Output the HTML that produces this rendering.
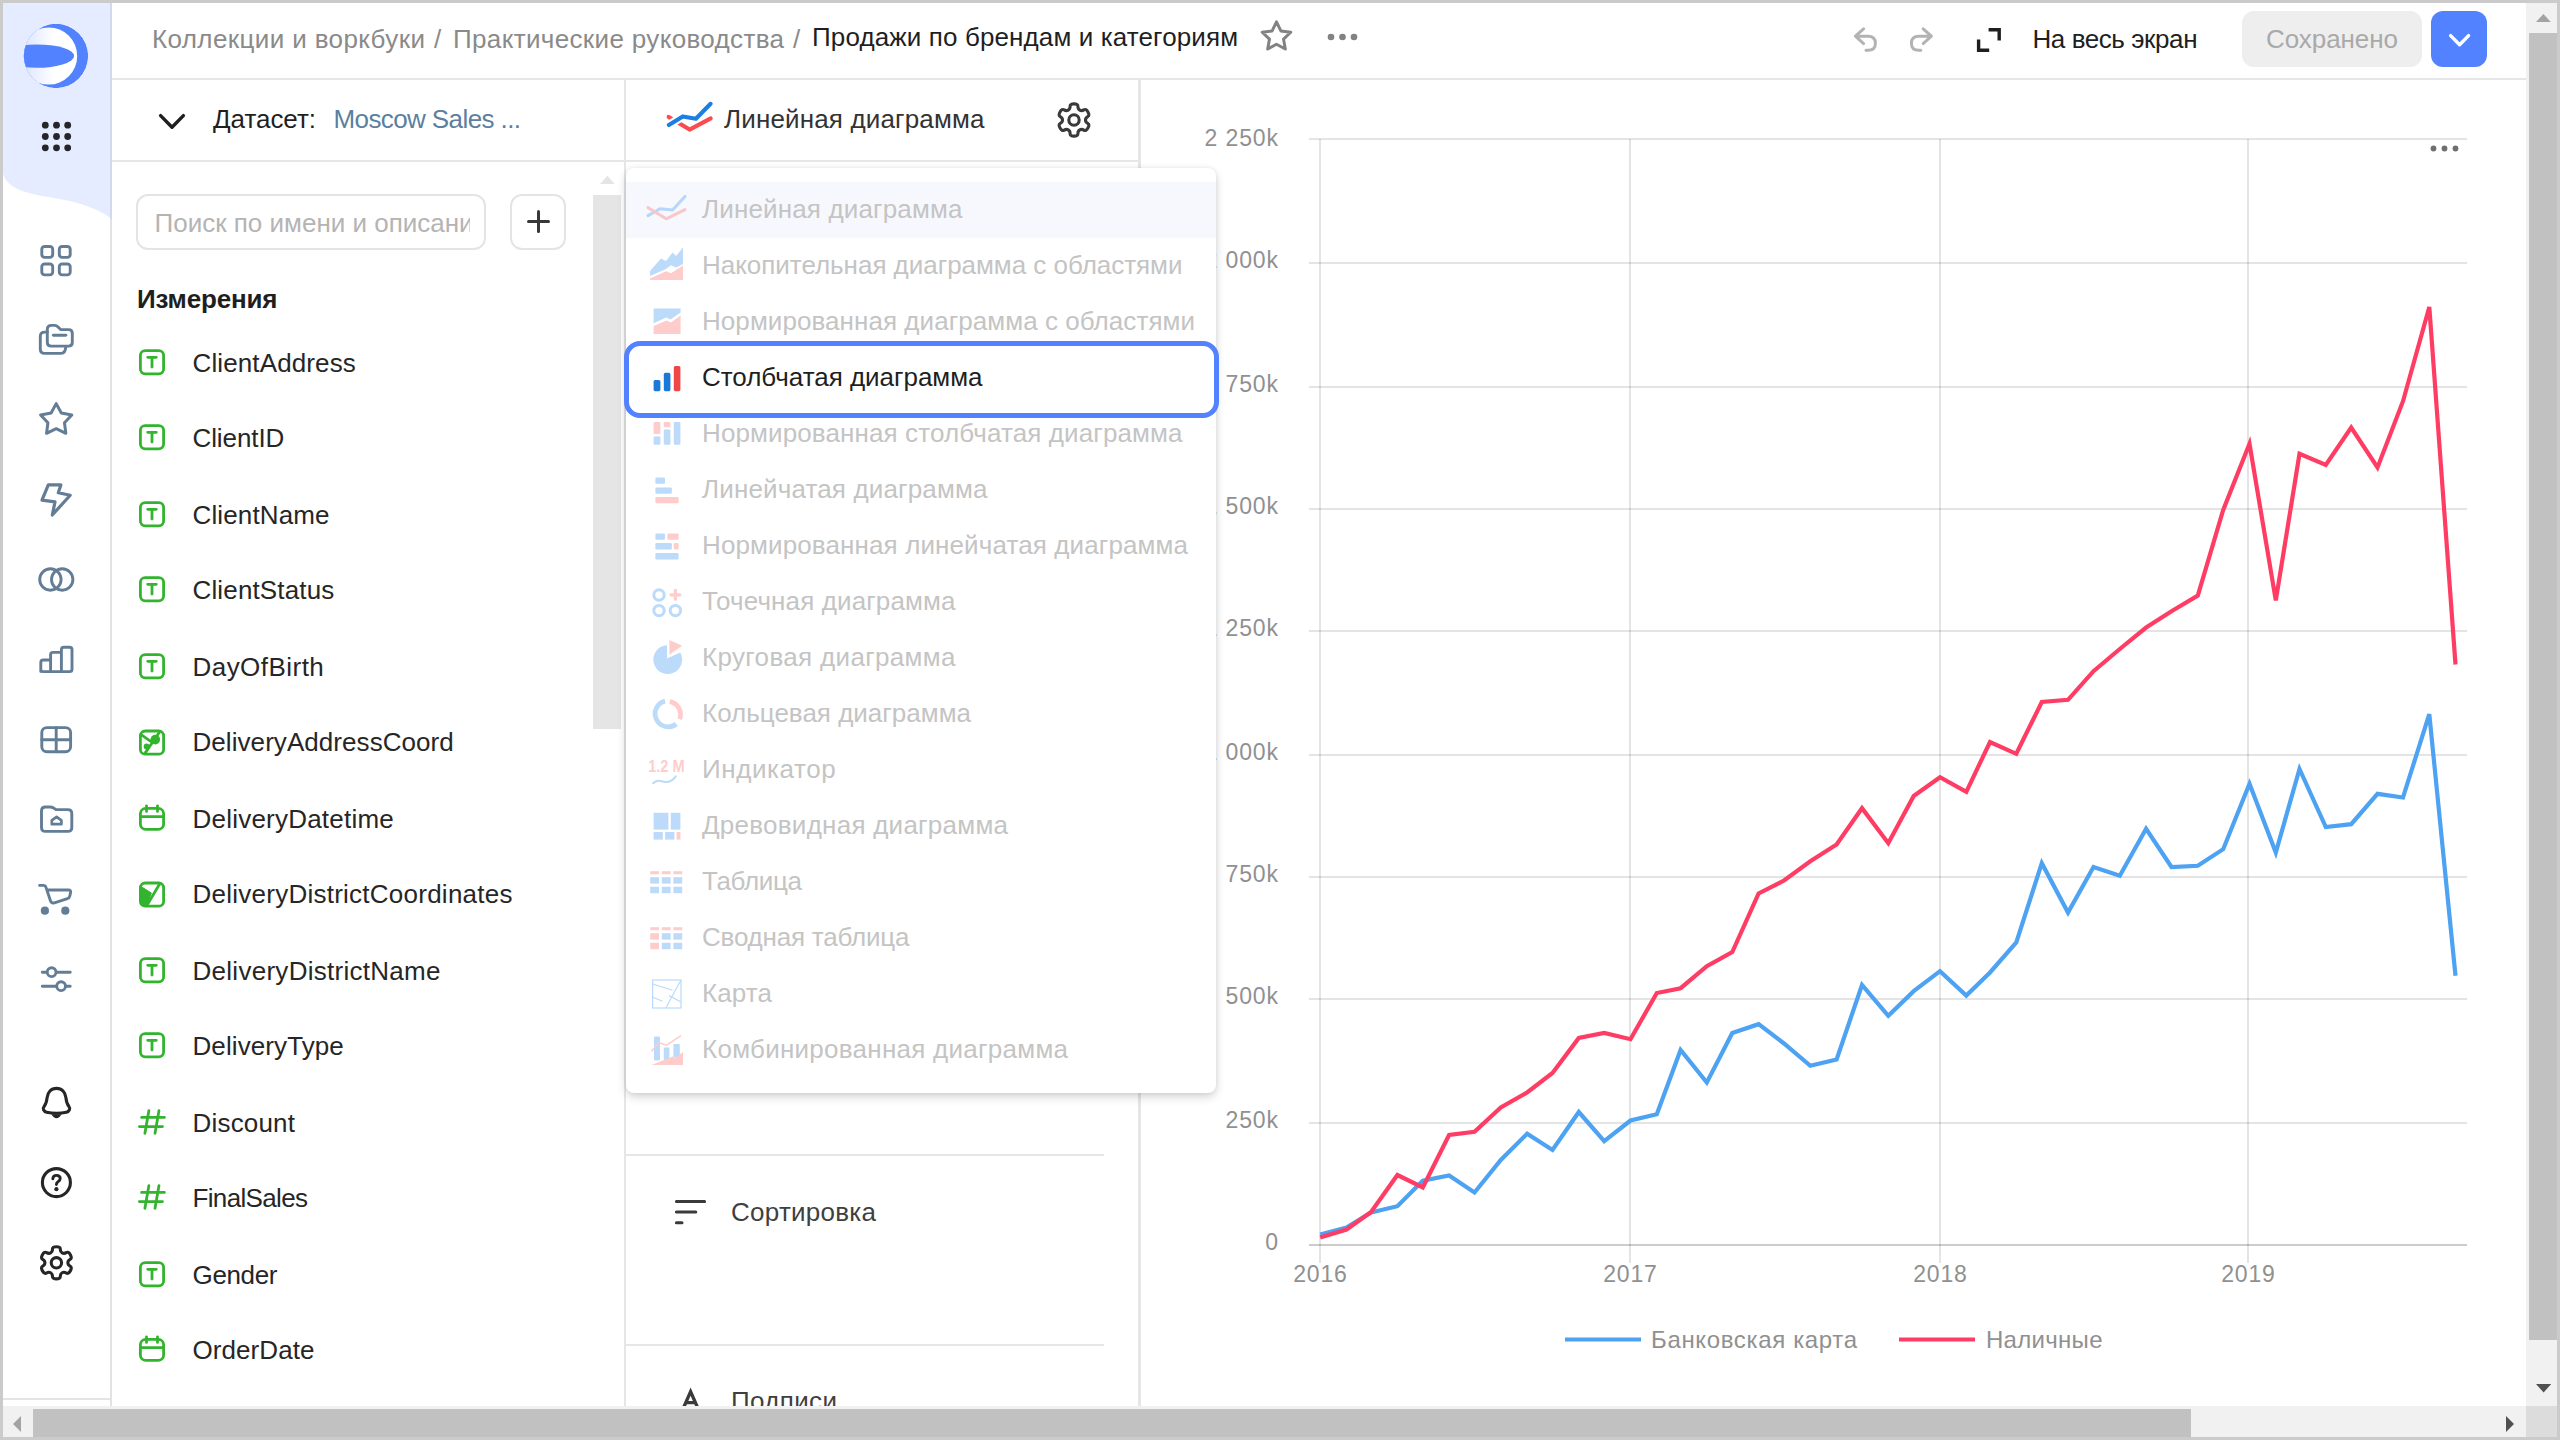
<!DOCTYPE html>
<html lang="ru"><head><meta charset="utf-8"><title>DataLens</title>
<style>
*{box-sizing:border-box;margin:0;padding:0}
html,body{width:2560px;height:1440px;overflow:hidden;background:#fff}
body{position:relative;font-family:"Liberation Sans",sans-serif;color:#262626}
.a{position:absolute}
.t{position:absolute;white-space:nowrap;line-height:1;font-family:"Liberation Sans",sans-serif}
svg{position:absolute;overflow:visible}

</style></head>
<body>
<svg style="left:3px;top:3px" width="109" height="240" viewBox="0 0 109 240"><path d="M0 0H109V216C92 203 70 198 45 194C20 190 4 184 0 171Z" fill="#e6ecff"/></svg>
<div class="a" style="left:110.3px;top:3px;width:1.6px;height:216px;background:#d3d8ec;"></div>
<div class="a" style="left:110.3px;top:219px;width:1.6px;height:1187px;background:#e2e2e2;"></div>
<div class="a" style="left:3px;top:1398.4px;width:108.8px;height:1.8px;background:#e4e4e4;"></div>
<div class="a" style="left:112px;top:78px;width:2414px;height:2px;background:#e6e6e6;"></div>
<div class="t" style="left:152.0px;top:25.5px;font-size:26px;color:#8a8a8a;letter-spacing:0.382px;">Коллекции и воркбуки</div>
<div class="t" style="left:434.0px;top:25.5px;font-size:26px;color:#8a8a8a;">/</div>
<div class="t" style="left:453.0px;top:25.5px;font-size:26px;color:#8a8a8a;letter-spacing:0.345px;">Практические руководства</div>
<div class="t" style="left:793.0px;top:25.5px;font-size:26px;color:#8a8a8a;">/</div>
<div class="t" style="left:812.0px;top:24.3px;font-size:26px;color:#1f1f1f;letter-spacing:0.119px;">Продажи по брендам и категориям</div>
<div class="t" style="left:2032.5px;top:26.0px;font-size:26px;color:#1f1f1f;letter-spacing:-0.428px;">На весь экран</div>
<div class="a" style="left:2242px;top:11px;width:180px;height:56px;background:#eeeeee;border-radius:12px"></div>
<div class="t" style="left:2266.0px;top:26.0px;font-size:26px;color:#a9a9a9;letter-spacing:-0.064px;">Сохранено</div>
<div class="a" style="left:2431px;top:11px;width:56px;height:56px;background:#5282ff;border-radius:12px"></div>
<div class="a" style="left:112px;top:160px;width:1027px;height:2px;background:#e6e6e6;"></div>
<div class="a" style="left:624px;top:80px;width:2px;height:1326px;background:#e6e6e6;"></div>
<div class="a" style="left:1138px;top:80px;width:2.6px;height:1326px;background:#e6e6e6;"></div>
<div class="t" style="left:213.0px;top:106.0px;font-size:26px;color:#1f1f1f;letter-spacing:-0.045px;">Датасет:</div>
<div class="t" style="left:333.5px;top:106.0px;font-size:26px;color:#5b7f9f;letter-spacing:-0.601px;">Moscow Sales ...</div>
<div class="t" style="left:724.0px;top:106.0px;font-size:26px;color:#333;letter-spacing:0.157px;">Линейная диаграмма</div>
<div class="a" style="left:136px;top:194px;width:350px;height:56px;background:#fff;border:2px solid #e4e4e4;border-radius:12px"></div>
<div class="a" style="left:138px;top:196px;width:332px;height:52px;overflow:hidden"><div class="t" style="left:16.5px;top:14.0px;font-size:26px;color:#b4b4b4;">Поиск по имени и описании</div></div>
<div class="a" style="left:510.2px;top:194px;width:56px;height:56px;background:#fff;border:2px solid #e4e4e4;border-radius:12px"></div>
<div class="a" style="left:526.6px;top:220.2px;width:23px;height:3.1px;background:#383838;border-radius:1.5px"></div>
<div class="a" style="left:536.6px;top:210.2px;width:3.1px;height:23px;background:#383838;border-radius:1.5px"></div>
<div class="t" style="left:137.0px;top:286.0px;font-size:26px;color:#1f1f1f;font-weight:700;letter-spacing:-0.170px;">Измерения</div>
<div class="a" style="left:593.4px;top:195px;width:27.6px;height:534.4px;background:#e5e5e5;"></div>
<svg style="left:600px;top:174px" width="15" height="12"><path d="M0 10L7.4 1.8L14.8 10Z" fill="#e5e5e5"/></svg>
<div class="t" style="left:192.5px;top:350.0px;font-size:26px;color:#262626;letter-spacing:0.120px;">ClientAddress</div>
<div class="t" style="left:192.5px;top:425.0px;font-size:26px;color:#262626;letter-spacing:-0.098px;">ClientID</div>
<div class="t" style="left:192.5px;top:502.0px;font-size:26px;color:#262626;letter-spacing:0.130px;">ClientName</div>
<div class="t" style="left:192.5px;top:577.0px;font-size:26px;color:#262626;letter-spacing:0.147px;">ClientStatus</div>
<div class="t" style="left:192.5px;top:654.0px;font-size:26px;color:#262626;letter-spacing:0.460px;">DayOfBirth</div>
<div class="t" style="left:192.5px;top:729.0px;font-size:26px;color:#262626;letter-spacing:0.063px;">DeliveryAddressCoord</div>
<div class="t" style="left:192.5px;top:806.0px;font-size:26px;color:#262626;letter-spacing:0.223px;">DeliveryDatetime</div>
<div class="t" style="left:192.5px;top:881.0px;font-size:26px;color:#262626;letter-spacing:0.248px;">DeliveryDistrictCoordinates</div>
<div class="t" style="left:192.5px;top:958.0px;font-size:26px;color:#262626;letter-spacing:0.279px;">DeliveryDistrictName</div>
<div class="t" style="left:192.5px;top:1033.0px;font-size:26px;color:#262626;letter-spacing:0.093px;">DeliveryType</div>
<div class="t" style="left:192.5px;top:1110.0px;font-size:26px;color:#262626;letter-spacing:0.192px;">Discount</div>
<div class="t" style="left:192.5px;top:1185.0px;font-size:26px;color:#262626;letter-spacing:-0.656px;">FinalSales</div>
<div class="t" style="left:192.5px;top:1262.0px;font-size:26px;color:#262626;letter-spacing:-0.347px;">Gender</div>
<div class="t" style="left:192.5px;top:1337.0px;font-size:26px;color:#262626;letter-spacing:0.076px;">OrderDate</div>
<div class="a" style="left:626px;top:1154px;width:478px;height:2px;background:#e6e6e6;"></div>
<div class="a" style="left:626px;top:1344px;width:478px;height:2px;background:#e6e6e6;"></div>
<div class="t" style="left:731.0px;top:1199.0px;font-size:26px;color:#3f3f3f;letter-spacing:0.255px;">Сортировка</div>
<div class="t" style="left:731.0px;top:1388.0px;font-size:26px;color:#3f3f3f;letter-spacing:0.354px;">Подписи</div>
<div class="a" style="left:2526px;top:3px;width:31px;height:1403px;background:#f1f1f1;"></div>
<div class="a" style="left:2529.3px;top:33px;width:27.7px;height:1307px;background:#c1c1c1;"></div>
<svg style="left:2536px;top:13px" width="15" height="10"><path d="M0 9L7.4 1L14.8 9Z" fill="#a3a3a3"/></svg>
<svg style="left:2535.6px;top:1383px" width="16" height="10"><path d="M0 1L7.6 9.6L15.2 1Z" fill="#505050"/></svg>
<div class="a" style="left:3px;top:1406px;width:2523px;height:31px;background:#f1f1f1;"></div>
<div class="a" style="left:33px;top:1410px;width:2158px;height:27px;background:#c1c1c1;"></div>
<svg style="left:12px;top:1415px" width="10" height="16"><path d="M9 0L1 8L9 16Z" fill="#a3a3a3"/></svg>
<svg style="left:2506px;top:1415px" width="10" height="16"><path d="M1 0L9 8L1 16Z" fill="#505050"/></svg>
<div class="a" style="left:2526px;top:1406px;width:31px;height:31px;background:#dcdcdc;"></div>
<svg style="left:0;top:0" width="2560" height="1440" viewBox="0 0 2560 1440"><rect x="1309" y="138.0" width="1158" height="2" fill="rgba(0,0,0,.105)"/><rect x="1309" y="262.0" width="1158" height="2" fill="rgba(0,0,0,.105)"/><rect x="1309" y="386.0" width="1158" height="2" fill="rgba(0,0,0,.105)"/><rect x="1309" y="508.0" width="1158" height="2" fill="rgba(0,0,0,.105)"/><rect x="1309" y="630.0" width="1158" height="2" fill="rgba(0,0,0,.105)"/><rect x="1309" y="754.0" width="1158" height="2" fill="rgba(0,0,0,.105)"/><rect x="1309" y="876.0" width="1158" height="2" fill="rgba(0,0,0,.105)"/><rect x="1309" y="998.0" width="1158" height="2" fill="rgba(0,0,0,.105)"/><rect x="1309" y="1122.0" width="1158" height="2" fill="rgba(0,0,0,.105)"/><rect x="1319" y="139" width="2" height="1124" fill="rgba(0,0,0,.105)"/><rect x="1629" y="139" width="2" height="1124" fill="rgba(0,0,0,.105)"/><rect x="1939" y="139" width="2" height="1124" fill="rgba(0,0,0,.105)"/><rect x="2247" y="139" width="2" height="1124" fill="rgba(0,0,0,.105)"/><rect x="1309" y="1244.0" width="1158" height="2" fill="rgba(0,0,0,.2)"/><polyline points="1320.2,1234.5 1346.5,1227.5 1371.1,1212.5 1397.4,1206.2 1422.8,1180.8 1449.1,1175.5 1474.5,1192.5 1500.8,1160.0 1527.1,1133.8 1552.5,1150.0 1578.8,1112.0 1604.2,1141.2 1630.5,1120.5 1656.8,1114.2 1680.6,1050.0 1706.8,1082.5 1732.3,1033.0 1758.6,1024.2 1784.0,1043.5 1810.3,1065.8 1836.6,1059.5 1862.0,985.0 1888.3,1015.8 1913.7,991.2 1940.0,971.2 1966.3,995.5 1990.0,972.5 2016.3,942.5 2041.8,863.2 2068.0,912.5 2093.5,867.0 2119.8,875.8 2146.1,828.8 2171.5,867.0 2197.8,865.8 2223.2,849.2 2249.5,783.8 2275.8,852.5 2299.5,769.0 2325.8,827.0 2351.2,824.2 2377.5,793.8 2403.0,797.5 2429.3,714.2 2455.5,975.8" fill="none" stroke="#4da2f1" stroke-width="4.2" stroke-linejoin="miter" stroke-linecap="butt"/><polyline points="1320.2,1237.5 1346.5,1229.5 1371.1,1212.0 1397.4,1175.0 1422.8,1187.5 1449.1,1135.0 1474.5,1131.8 1500.8,1107.5 1527.1,1092.5 1552.5,1073.0 1578.8,1038.0 1604.2,1033.0 1630.5,1039.2 1656.8,993.0 1680.6,988.2 1706.8,966.2 1732.3,952.0 1758.6,893.5 1784.0,880.5 1810.3,861.2 1836.6,844.5 1862.0,808.2 1888.3,843.2 1913.7,796.0 1940.0,777.2 1966.3,791.8 1990.0,742.0 2016.3,753.8 2041.8,702.0 2068.0,699.8 2093.5,671.2 2119.8,649.0 2146.1,627.5 2171.5,611.2 2197.8,595.5 2223.2,510.0 2249.5,443.8 2275.8,600.5 2299.5,453.8 2325.8,465.0 2351.2,427.5 2377.5,467.5 2403.0,401.2 2429.3,307.0 2455.5,664.5" fill="none" stroke="#ff3d64" stroke-width="4.2" stroke-linejoin="miter" stroke-linecap="butt"/><rect x="1565" y="1337.5" width="76" height="4" fill="#4da2f1"/><rect x="1899" y="1337.5" width="76" height="4" fill="#ff3d64"/><circle cx="2433.5" cy="148.5" r="2.9" fill="#6f6f6f"/><circle cx="2444.5" cy="148.5" r="2.9" fill="#6f6f6f"/><circle cx="2455.5" cy="148.5" r="2.9" fill="#6f6f6f"/></svg>
<div class="t" style="left:1204.5px;top:126.8px;font-size:23px;color:#909090;letter-spacing:0.887px;">2 250k</div>
<div class="t" style="left:1204.5px;top:248.5px;font-size:23px;color:#909090;letter-spacing:0.887px;">2 000k</div>
<div class="t" style="left:1204.5px;top:372.5px;font-size:23px;color:#909090;letter-spacing:0.887px;">1 750k</div>
<div class="t" style="left:1204.5px;top:494.5px;font-size:23px;color:#909090;letter-spacing:0.887px;">1 500k</div>
<div class="t" style="left:1204.5px;top:616.5px;font-size:23px;color:#909090;letter-spacing:0.887px;">1 250k</div>
<div class="t" style="left:1204.5px;top:740.5px;font-size:23px;color:#909090;letter-spacing:0.887px;">1 000k</div>
<div class="t" style="left:1225.5px;top:862.5px;font-size:23px;color:#909090;letter-spacing:0.875px;">750k</div>
<div class="t" style="left:1225.5px;top:984.5px;font-size:23px;color:#909090;letter-spacing:0.875px;">500k</div>
<div class="t" style="left:1225.5px;top:1108.5px;font-size:23px;color:#909090;letter-spacing:0.875px;">250k</div>
<div class="t" style="left:1265.2px;top:1230.5px;font-size:23px;color:#909090;">0</div>
<div class="t" style="left:1293.3px;top:1262.5px;font-size:23px;color:#909090;letter-spacing:0.776px;">2016</div>
<div class="t" style="left:1603.3px;top:1262.5px;font-size:23px;color:#909090;letter-spacing:0.776px;">2017</div>
<div class="t" style="left:1913.3px;top:1262.5px;font-size:23px;color:#909090;letter-spacing:0.776px;">2018</div>
<div class="t" style="left:2221.3px;top:1262.5px;font-size:23px;color:#909090;letter-spacing:0.776px;">2019</div>
<div class="t" style="left:1651.0px;top:1327.7px;font-size:24px;color:#909090;letter-spacing:0.649px;">Банковская карта</div>
<div class="t" style="left:1986.0px;top:1327.7px;font-size:24px;color:#909090;letter-spacing:0.292px;">Наличные</div>
<svg style="left:0;top:0" width="2560" height="1440" viewBox="0 0 2560 1440"><defs><linearGradient id="lg" gradientUnits="userSpaceOnUse" x1="24" x2="54" y1="0" y2="0"><stop offset="0" stop-color="#dde5ff"/><stop offset="1" stop-color="#ffffff"/></linearGradient><clipPath id="lc"><circle cx="56" cy="56" r="32.2"/></clipPath></defs><circle cx="56" cy="56" r="32.2" fill="url(#lg)"/><g clip-path="url(#lc)"><path fill-rule="evenodd" fill="#5282ff" d="M23.8 56a32.2 32.2 0 1 0 64.4 0a32.2 32.2 0 1 0 -64.4 0ZM20.1 56a28.55 28.55 0 1 0 57.1 0a28.55 28.55 0 1 0 -57.1 0Z"/><ellipse cx="36.7" cy="56.1" rx="37.4" ry="11.7" fill="#5282ff"/></g><circle cx="45.3" cy="125.2" r="3.4" fill="#26262a"/><circle cx="45.3" cy="136.5" r="3.4" fill="#26262a"/><circle cx="45.3" cy="147.8" r="3.4" fill="#26262a"/><circle cx="56.5" cy="125.2" r="3.4" fill="#26262a"/><circle cx="56.5" cy="136.5" r="3.4" fill="#26262a"/><circle cx="56.5" cy="147.8" r="3.4" fill="#26262a"/><circle cx="67.7" cy="125.2" r="3.4" fill="#26262a"/><circle cx="67.7" cy="136.5" r="3.4" fill="#26262a"/><circle cx="67.7" cy="147.8" r="3.4" fill="#26262a"/><g transform="translate(56,260.7)" ><rect x="-14.2" y="-14.2" width="10.9" height="10.9" rx="2.8" fill="none" stroke="#637d96" stroke-width="2.9" stroke-linecap="round" stroke-linejoin="round" /><rect x="-14.2" y="3.3" width="10.9" height="10.9" rx="2.8" fill="none" stroke="#637d96" stroke-width="2.9" stroke-linecap="round" stroke-linejoin="round" /><rect x="3.3" y="-14.2" width="10.9" height="10.9" rx="2.8" fill="none" stroke="#637d96" stroke-width="2.9" stroke-linecap="round" stroke-linejoin="round" /><rect x="3.3" y="3.3" width="10.9" height="10.9" rx="2.8" fill="none" stroke="#637d96" stroke-width="2.9" stroke-linecap="round" stroke-linejoin="round" /></g><g transform="translate(56,339.5)" ><path d="M-8.7 -10V2.8Q-8.7 6.6 -4.9 6.6H12.6Q16.3 6.6 16.3 2.8V-6.2Q16.3 -9.9 12.6 -9.9H4.6L1.8 -12.8Q0.6 -14.1 -1.2 -14.1H-4.6Q-8.7 -14.1 -8.7 -10Z" fill="none" stroke="#637d96" stroke-width="2.9" stroke-linecap="round" stroke-linejoin="round" /><path d="M-2.6 -4.2H9.8" fill="none" stroke="#637d96" stroke-width="2.9" stroke-linecap="round" stroke-linejoin="round" /><path d="M-8.7 -7.4H-11.4Q-15.7 -7.4 -15.7 -3.1V9.6Q-15.7 13.9 -11.4 13.9H5.2Q9.4 13.9 9.8 7.2" fill="none" stroke="#637d96" stroke-width="2.9" stroke-linecap="round" stroke-linejoin="round" /></g><g transform="translate(56.2,420)" ><polygon points="0.00,-16.40 5.11,-7.04 15.60,-5.07 8.27,2.69 9.64,13.27 0.00,8.70 -9.64,13.27 -8.27,2.69 -15.60,-5.07 -5.11,-7.04" fill="none" stroke="#637d96" stroke-width="3" stroke-linecap="round" stroke-linejoin="round" /></g><g transform="translate(0,0)" ><polygon points="48.3,484.8 60.9,484.8 58.3,492.8 70.2,495.2 52.3,515 55,501.9 42,500.2" fill="none" stroke="#637d96" stroke-width="3.2" stroke-linecap="round" stroke-linejoin="round" /></g><g transform="translate(0,0)" ><circle cx="50.4" cy="579.5" r="10.7" fill="none" stroke="#637d96" stroke-width="2.9" stroke-linecap="round" stroke-linejoin="round" /><circle cx="62.2" cy="579.5" r="10.7" fill="none" stroke="#637d96" stroke-width="2.9" stroke-linecap="round" stroke-linejoin="round" /></g><g transform="translate(0,0)" ><path d="M40.8 671.5V662.4Q40.8 660 43.2 660H50.6V654.6Q50.6 652.4 52.8 652.4H61.4V649.6Q61.4 647.2 63.8 647.2H69.6Q72 647.2 72 649.6V669.2Q72 671.6 69.6 671.6H43.2Q40.8 671.6 40.8 669.2Z M50.6 660V671.5 M61.4 652.4V671.5" fill="none" stroke="#637d96" stroke-width="2.9" stroke-linecap="round" stroke-linejoin="round" /></g><g transform="translate(0,0)" ><rect x="41.8" y="727.6" width="28.8" height="24.2" rx="5" fill="none" stroke="#637d96" stroke-width="2.9" stroke-linecap="round" stroke-linejoin="round" /><path d="M56.2 727.6V751.8M41.8 739.7H70.6" fill="none" stroke="#637d96" stroke-width="2.9" stroke-linecap="round" stroke-linejoin="round" /></g><g transform="translate(0,0)" ><path d="M41.5 811V827.4Q41.5 831.4 45.5 831.4H67.8Q71.8 831.4 71.8 827.4V813.6Q71.8 809.6 67.8 809.6H56L53 807.6Q51.8 807 50.4 807H45.5Q41.5 807 41.5 811Z" fill="none" stroke="#637d96" stroke-width="2.9" stroke-linecap="round" stroke-linejoin="round" /><path d="M51.8 824.2V820.4L56.6 816.8L61.4 820.4V824.2Z" fill="none" stroke="#637d96" stroke-width="2.7" stroke-linecap="round" stroke-linejoin="round" /></g><g transform="translate(0,0)" ><path d="M39.6 885.4H43.4Q45.4 885.4 46 887.4L50.4 900.6Q51.4 903.6 54.4 902.8L67.4 898.6Q69.4 898 69.8 896L70.6 892.4Q71 890 68.6 890H47.2" fill="none" stroke="#637d96" stroke-width="2.9" stroke-linecap="round" stroke-linejoin="round" /><circle cx="44.9" cy="910.7" r="4.1" fill="#637d96"/><circle cx="65.3" cy="910.7" r="4.1" fill="#637d96"/></g><g transform="translate(0,0)" ><path d="M42.3 972.2H46.6M56.6 972.2H70.2M42.3 986.2H56M66.2 986.2H70.2" fill="none" stroke="#637d96" stroke-width="2.9" stroke-linecap="round" stroke-linejoin="round" /><circle cx="51.6" cy="972.2" r="4.4" fill="none" stroke="#637d96" stroke-width="2.9" stroke-linecap="round" stroke-linejoin="round" /><circle cx="61.1" cy="986.2" r="4.4" fill="none" stroke="#637d96" stroke-width="2.9" stroke-linecap="round" stroke-linejoin="round" /></g><g transform="translate(56.5,0)" ><path d="M0 1088.4C-5.6 1088.4 -8.8 1092.4 -9.4 1097.6C-9.8 1101.6 -10.6 1104.2 -12.4 1106.4C-14.2 1108.8 -12.8 1111.6 -10 1112.2C-3.4 1113.6 3.4 1113.6 10 1112.2C12.8 1111.6 14.2 1108.8 12.4 1106.4C10.6 1104.2 9.8 1101.6 9.4 1097.6C8.8 1092.4 5.6 1088.4 0 1088.4Z" fill="none" stroke="#262626" stroke-width="3.1" stroke-linecap="round" stroke-linejoin="round" /><path d="M-5.2 1114.2Q0 1122.4 5.2 1114.2Z" fill="#262626"/></g><g transform="translate(56.4,1182.6)" ><circle r="14" fill="none" stroke="#262626" stroke-width="3.1" stroke-linecap="round" stroke-linejoin="round" /><path d="M-3.6 -3.8Q-3.4 -7.2 0 -7.2Q3.8 -7.2 3.8 -4Q3.8 -2 1.6 -0.8Q0 0.2 0 2" fill="none" stroke="#262626" stroke-width="2.9" stroke-linecap="round" stroke-linejoin="round" /><circle cx="0" cy="6.6" r="2.1" fill="#262626"/></g><g transform="translate(56.4,1262.8)" ><path d="M-5.74 -9.95Q-3.81 -11.06 -3.91 -13.58Q-4.02 -16.11 -0.00 -16.11Q4.02 -16.11 3.91 -13.58Q3.81 -11.06 5.74 -9.95Q7.68 -8.83 9.81 -10.18Q11.94 -11.53 13.95 -8.05Q15.96 -4.58 13.72 -3.40Q11.49 -2.23 11.49 0.00Q11.49 2.23 13.72 3.40Q15.96 4.58 13.95 8.05Q11.94 11.53 9.81 10.18Q7.68 8.83 5.74 9.95Q3.81 11.06 3.91 13.58Q4.02 16.11 -0.00 16.11Q-4.02 16.11 -3.91 13.58Q-3.81 11.06 -5.74 9.95Q-7.68 8.83 -9.81 10.18Q-11.94 11.53 -13.95 8.05Q-15.96 4.58 -13.72 3.40Q-11.49 2.23 -11.49 0.00Q-11.49 -2.23 -13.72 -3.40Q-15.96 -4.58 -13.95 -8.05Q-11.94 -11.53 -9.81 -10.18Q-7.68 -8.83 -5.74 -9.95Z" fill="none" stroke="#262626" stroke-width="3.1" stroke-linecap="round" stroke-linejoin="round" /><circle r="5.2" fill="none" stroke="#262626" stroke-width="3.1" stroke-linecap="round" stroke-linejoin="round" /></g><g transform="translate(1074,120)" ><path d="M-5.74 -9.95Q-3.81 -11.06 -3.91 -13.58Q-4.02 -16.11 -0.00 -16.11Q4.02 -16.11 3.91 -13.58Q3.81 -11.06 5.74 -9.95Q7.68 -8.83 9.81 -10.18Q11.94 -11.53 13.95 -8.05Q15.96 -4.58 13.72 -3.40Q11.49 -2.23 11.49 0.00Q11.49 2.23 13.72 3.40Q15.96 4.58 13.95 8.05Q11.94 11.53 9.81 10.18Q7.68 8.83 5.74 9.95Q3.81 11.06 3.91 13.58Q4.02 16.11 -0.00 16.11Q-4.02 16.11 -3.91 13.58Q-3.81 11.06 -5.74 9.95Q-7.68 8.83 -9.81 10.18Q-11.94 11.53 -13.95 8.05Q-15.96 4.58 -13.72 3.40Q-11.49 2.23 -11.49 0.00Q-11.49 -2.23 -13.72 -3.40Q-15.96 -4.58 -13.95 -8.05Q-11.94 -11.53 -9.81 -10.18Q-7.68 -8.83 -5.74 -9.95Z" fill="none" stroke="#3a3a3a" stroke-width="3.1" stroke-linecap="round" stroke-linejoin="round" /><circle r="5.2" fill="none" stroke="#3a3a3a" stroke-width="3.1" stroke-linecap="round" stroke-linejoin="round" /></g><g transform="translate(1276.5,36.9)" ><polygon points="0.00,-15.00 4.35,-5.99 14.27,-4.64 7.04,2.29 8.82,12.14 0.00,7.40 -8.82,12.14 -7.04,2.29 -14.27,-4.64 -4.35,-5.99" fill="none" stroke="#828282" stroke-width="3" stroke-linecap="round" stroke-linejoin="round" /></g><circle cx="1331" cy="37" r="3.3" fill="#828282"/><circle cx="1342.5" cy="37" r="3.3" fill="#828282"/><circle cx="1354" cy="37" r="3.3" fill="#828282"/><g transform="translate(0,0)" ><path d="M1863.6 28.8L1855.4 36.2L1863.6 43.6M1856.2 36.2H1868Q1875.4 36.2 1875.4 43.2Q1875.4 50.2 1868 50.2H1866" fill="none" stroke="#b3b3b3" stroke-width="3" stroke-linecap="round" stroke-linejoin="round" /></g><g transform="translate(0,0)" ><path d="M1923.2 28.8L1931.4 36.2L1923.2 43.6M1930.6 36.2H1918.8Q1911.4 36.2 1911.4 43.2Q1911.4 50.2 1918.8 50.2H1920.8" fill="none" stroke="#b3b3b3" stroke-width="3" stroke-linecap="round" stroke-linejoin="round" /></g><g transform="translate(0,0)" ><path d="M1988.6 29.8H1999.2V40.4M1978.6 39.6V50.2H1989.2" fill="none" stroke="#1f1f1f" stroke-width="3.4" stroke-linejoin="miter"/></g><g transform="translate(0,0)" ><path d="M2450.6 35.6L2459.6 44.8L2468.6 35.6" fill="none" stroke="#fff" stroke-width="3.4" stroke-linecap="round" stroke-linejoin="round"/></g><g transform="translate(0,0)" ><path d="M160.6 115.6L172 127.2L183.4 115.6" fill="none" stroke="#1f1f1f" stroke-width="3.4" stroke-linecap="round" stroke-linejoin="round"/></g><g transform="translate(0,0)" ><polyline points="668.6,116.9 689.6,129.6 710.7,118.4" fill="none" stroke="#fb4b50" stroke-width="4.1" stroke-linecap="round" stroke-linejoin="round" /><polyline points="668.8,125 682.8,116.4 695.9,118.8 710.6,103.8" fill="none" stroke="#fff" stroke-width="8.5" stroke-linecap="round" stroke-linejoin="round" /><polyline points="668.8,125 682.8,116.4 695.9,118.8 710.6,103.8" fill="none" stroke="#1a7fe3" stroke-width="4.1" stroke-linecap="round" stroke-linejoin="round" /></g><g transform="translate(0,0)" ><path d="M676.4 1201.4H704.6M676.4 1212H695.8M676.4 1222.8H682" fill="none" stroke="#3a3a3a" stroke-width="3" stroke-linecap="round" stroke-linejoin="round" /></g><g transform="translate(0,0)" ><path d="M683 1409L690.6 1391.6L698.2 1409M685.6 1402.6H695.6" fill="none" stroke="#3a3a3a" stroke-width="3.3" stroke-linejoin="miter"/></g><g transform="translate(152,362.3)" ><rect x="-11.6" y="-11.6" width="23.2" height="23.2" rx="4.8" fill="none" stroke="#33b42e" stroke-width="2.8" stroke-linecap="round" stroke-linejoin="round" /><path d="M-4.3 -5H4.3M0 -5V4.8" fill="none" stroke="#33b42e" stroke-width="2.8" stroke-linecap="round" stroke-linejoin="round" /></g><g transform="translate(152,437.3)" ><rect x="-11.6" y="-11.6" width="23.2" height="23.2" rx="4.8" fill="none" stroke="#33b42e" stroke-width="2.8" stroke-linecap="round" stroke-linejoin="round" /><path d="M-4.3 -5H4.3M0 -5V4.8" fill="none" stroke="#33b42e" stroke-width="2.8" stroke-linecap="round" stroke-linejoin="round" /></g><g transform="translate(152,514.3)" ><rect x="-11.6" y="-11.6" width="23.2" height="23.2" rx="4.8" fill="none" stroke="#33b42e" stroke-width="2.8" stroke-linecap="round" stroke-linejoin="round" /><path d="M-4.3 -5H4.3M0 -5V4.8" fill="none" stroke="#33b42e" stroke-width="2.8" stroke-linecap="round" stroke-linejoin="round" /></g><g transform="translate(152,589.3)" ><rect x="-11.6" y="-11.6" width="23.2" height="23.2" rx="4.8" fill="none" stroke="#33b42e" stroke-width="2.8" stroke-linecap="round" stroke-linejoin="round" /><path d="M-4.3 -5H4.3M0 -5V4.8" fill="none" stroke="#33b42e" stroke-width="2.8" stroke-linecap="round" stroke-linejoin="round" /></g><g transform="translate(152,666.3)" ><rect x="-11.6" y="-11.6" width="23.2" height="23.2" rx="4.8" fill="none" stroke="#33b42e" stroke-width="2.8" stroke-linecap="round" stroke-linejoin="round" /><path d="M-4.3 -5H4.3M0 -5V4.8" fill="none" stroke="#33b42e" stroke-width="2.8" stroke-linecap="round" stroke-linejoin="round" /></g><g transform="translate(152,742.6)" ><rect x="-11.6" y="-11.6" width="23.2" height="23.2" rx="4.8" fill="none" stroke="#33b42e" stroke-width="2.8" stroke-linecap="round" stroke-linejoin="round" /><path d="M7.6 -10.6L-7.3 11M-10.2 -7.4L-1.7 -1.5" fill="none" stroke="#33b42e" stroke-width="2.8" stroke-linecap="round" stroke-linejoin="round" /><circle cx="3.3" cy="-3" r="4.8" fill="#33b42e"/><circle cx="-5.4" cy="3.9" r="2.9" fill="#33b42e"/></g><g transform="translate(152,819)" ><rect x="-11.6" y="-10.6" width="23.2" height="21" rx="5.4" fill="none" stroke="#33b42e" stroke-width="2.8" stroke-linecap="round" stroke-linejoin="round" /><path d="M-11.6 -2.4H11.6M-5.5 -13.2V-7.6M5.5 -13.2V-7.6" fill="none" stroke="#33b42e" stroke-width="2.8" stroke-linecap="round" stroke-linejoin="round" /></g><g transform="translate(152,894.6)" ><rect x="-11.6" y="-11.6" width="23.2" height="23.2" rx="4.8" fill="none" stroke="#33b42e" stroke-width="2.8" stroke-linecap="round" stroke-linejoin="round" /><path d="M7.6 -10.6L-5.2 11" fill="none" stroke="#33b42e" stroke-width="2.8" stroke-linecap="round" stroke-linejoin="round" /><path d="M-11 -8L-0.6 -1.6L-5.6 11.4H-7Q-11.6 11.4 -11.6 7Z" fill="#33b42e" stroke="#33b42e" stroke-width="1" stroke-linejoin="round"/></g><g transform="translate(152,970.3)" ><rect x="-11.6" y="-11.6" width="23.2" height="23.2" rx="4.8" fill="none" stroke="#33b42e" stroke-width="2.8" stroke-linecap="round" stroke-linejoin="round" /><path d="M-4.3 -5H4.3M0 -5V4.8" fill="none" stroke="#33b42e" stroke-width="2.8" stroke-linecap="round" stroke-linejoin="round" /></g><g transform="translate(152,1045.3)" ><rect x="-11.6" y="-11.6" width="23.2" height="23.2" rx="4.8" fill="none" stroke="#33b42e" stroke-width="2.8" stroke-linecap="round" stroke-linejoin="round" /><path d="M-4.3 -5H4.3M0 -5V4.8" fill="none" stroke="#33b42e" stroke-width="2.8" stroke-linecap="round" stroke-linejoin="round" /></g><g transform="translate(152,1122)" ><path d="M-10.4 -4.6H12.4M-12.6 4.6H10.5M-3.1 -11.4L-7.1 11.3M7 -11.4L3 11.3" fill="none" stroke="#33b42e" stroke-width="2.8" stroke-linecap="round" stroke-linejoin="round" /></g><g transform="translate(152,1197)" ><path d="M-10.4 -4.6H12.4M-12.6 4.6H10.5M-3.1 -11.4L-7.1 11.3M7 -11.4L3 11.3" fill="none" stroke="#33b42e" stroke-width="2.8" stroke-linecap="round" stroke-linejoin="round" /></g><g transform="translate(152,1274.3)" ><rect x="-11.6" y="-11.6" width="23.2" height="23.2" rx="4.8" fill="none" stroke="#33b42e" stroke-width="2.8" stroke-linecap="round" stroke-linejoin="round" /><path d="M-4.3 -5H4.3M0 -5V4.8" fill="none" stroke="#33b42e" stroke-width="2.8" stroke-linecap="round" stroke-linejoin="round" /></g><g transform="translate(152,1350)" ><rect x="-11.6" y="-10.6" width="23.2" height="21" rx="5.4" fill="none" stroke="#33b42e" stroke-width="2.8" stroke-linecap="round" stroke-linejoin="round" /><path d="M-11.6 -2.4H11.6M-5.5 -13.2V-7.6M5.5 -13.2V-7.6" fill="none" stroke="#33b42e" stroke-width="2.8" stroke-linecap="round" stroke-linejoin="round" /></g></svg>
<div class="a" style="left:625.6px;top:167.6px;width:590.8px;height:925.4px;background:#fff;border-radius:8px;box-shadow:0 4px 10px rgba(0,0,0,.17),0 0 5px rgba(0,0,0,.07)"></div>
<div class="a" style="left:625.6px;top:182px;width:590.8px;height:56px;background:#f7f8fd;"></div>
<svg style="left:651px;top:194px;opacity:0.34" width="32" height="32" viewBox="0 0 16 16"><polyline points="-1.5,10.8 4.5,7.4 10.8,8 17,1.2" fill="none" stroke="#3d96f2" stroke-width="1.5" stroke-linecap="round" stroke-linejoin="round"/><polyline points="-1.5,6.8 7.6,12.4 17,7.8" fill="none" stroke="#ff6b6b" stroke-width="1.5" stroke-linecap="round" stroke-linejoin="round"/></svg>
<div class="t" style="left:702.0px;top:196.0px;font-size:26px;color:#c4c4c4;letter-spacing:0.157px;">Линейная диаграмма</div>
<svg style="left:651px;top:250px;opacity:0.34" width="32" height="32" viewBox="0 0 16 16"><path d="M-0.5 10.5L5 4.3L7.5 5.5L10.8 1.2L12.5 3L16 -1.3V7L12.6 8.8L10 7.6L7.2 9.6L-0.5 13Z" fill="#3d96f2"/><path d="M-0.5 14.2L7.5 10.6L10 11.6L16 7.8V15H-0.5Z" fill="#ff6b6b"/></svg>
<div class="t" style="left:702.0px;top:252.0px;font-size:26px;color:#c4c4c4;letter-spacing:-0.028px;">Накопительная диаграмма с областями</div>
<svg style="left:651px;top:306px;opacity:0.34" width="32" height="32" viewBox="0 0 16 16"><path d="M1.3 1.2H14.8V3.2L9.8 6.8L7.6 5.8L1.3 8.6Z" fill="#3d96f2"/><path d="M1.3 10L7.8 7.2L10 8.2L14.8 4.8V14H1.3Z" fill="#ff6b6b"/></svg>
<div class="t" style="left:702.0px;top:308.0px;font-size:26px;color:#c4c4c4;letter-spacing:0.062px;">Нормированная диаграмма с областями</div>
<svg style="left:651px;top:362px;opacity:1" width="32" height="32" viewBox="0 0 16 16"><rect x="1.3" y="9" width="3.4" height="5.6" rx=".8" fill="#1a78d6"/><rect x="6.4" y="5.4" width="3.3" height="9.2" rx=".8" fill="#1a78d6"/><rect x="11.4" y="2" width="3.3" height="12.6" rx=".8" fill="#f04646"/></svg>
<svg style="left:651px;top:418px;opacity:0.34" width="32" height="32" viewBox="0 0 16 16"><rect x="1.3" y="2" width="3.4" height="6" rx=".5" fill="#ff6b6b"/><rect x="1.3" y="9.2" width="3.4" height="4.2" rx=".5" fill="#3d96f2"/><rect x="6.4" y="2" width="3.3" height="2.6" rx=".5" fill="#ff6b6b"/><rect x="6.4" y="5.8" width="3.3" height="7.6" rx=".5" fill="#3d96f2"/><rect x="11.4" y="2" width="3.3" height="11.4" rx=".5" fill="#3d96f2"/></svg>
<div class="t" style="left:702.0px;top:420.0px;font-size:26px;color:#c4c4c4;letter-spacing:0.113px;">Нормированная столбчатая диаграмма</div>
<svg style="left:651px;top:474px;opacity:0.34" width="32" height="32" viewBox="0 0 16 16"><rect x="2.2" y="1.7" width="4.8" height="3.2" rx=".6" fill="#3d96f2"/><rect x="2.2" y="6.7" width="8.2" height="3.2" rx=".6" fill="#3d96f2"/><rect x="2.2" y="11.5" width="11.6" height="3.1" rx=".6" fill="#ff6b6b"/></svg>
<div class="t" style="left:702.0px;top:476.0px;font-size:26px;color:#c4c4c4;letter-spacing:0.157px;">Линейчатая диаграмма</div>
<svg style="left:651px;top:530px;opacity:0.34" width="32" height="32" viewBox="0 0 16 16"><rect x="2.2" y="1.7" width="4.8" height="3.2" rx=".6" fill="#3d96f2"/><rect x="8.2" y="1.7" width="5.6" height="3.2" rx=".6" fill="#ff6b6b"/><rect x="2.2" y="6.5" width="8.2" height="3.2" rx=".6" fill="#3d96f2"/><rect x="11.4" y="6.5" width="2.4" height="3.2" rx=".6" fill="#ff6b6b"/><rect x="2.2" y="11.5" width="11.6" height="3.2" rx=".6" fill="#3d96f2"/></svg>
<div class="t" style="left:702.0px;top:532.0px;font-size:26px;color:#c4c4c4;letter-spacing:0.118px;">Нормированная линейчатая диаграмма</div>
<svg style="left:651px;top:586px;opacity:0.34" width="32" height="32" viewBox="0 0 16 16"><circle cx="4" cy="4.5" r="2.6" fill="none" stroke="#3d96f2" stroke-width="1.5"/><circle cx="4" cy="12.3" r="2.6" fill="none" stroke="#3d96f2" stroke-width="1.5"/><circle cx="12.2" cy="12.3" r="2.6" fill="none" stroke="#3d96f2" stroke-width="1.5"/><path d="M12.2 2.2V6.6M10 4.4H14.4" stroke="#ff6b6b" stroke-width="1.6" stroke-linecap="round"/></svg>
<div class="t" style="left:702.0px;top:588.0px;font-size:26px;color:#c4c4c4;letter-spacing:0.128px;">Точечная диаграмма</div>
<svg style="left:651px;top:642px;opacity:0.34" width="32" height="32" viewBox="0 0 16 16"><path d="M8 8.2L8 1.6A7.2 7.2 0 1 0 14.6 5.2Z" fill="#3d96f2"/><path d="M9.2 -1L15.6 1.9L9.2 6.4Z" fill="#ff6b6b"/></svg>
<div class="t" style="left:702.0px;top:644.0px;font-size:26px;color:#c4c4c4;letter-spacing:0.338px;">Круговая диаграмма</div>
<svg style="left:651px;top:698px;opacity:0.34" width="32" height="32" viewBox="0 0 16 16"><path d="M7 1.6A6.5 6.5 0 1 0 12.6 13" fill="none" stroke="#3d96f2" stroke-width="2.4"/><path d="M9.4 1.8A6.5 6.5 0 0 1 14.3 10.6" fill="none" stroke="#ff6b6b" stroke-width="2.4"/></svg>
<div class="t" style="left:702.0px;top:700.0px;font-size:26px;color:#c4c4c4;letter-spacing:0.007px;">Кольцевая диаграмма</div>
<svg style="left:651px;top:754px;opacity:0.34" width="32" height="32" viewBox="0 0 16 16"><text x="-1.4" y="9.2" font-family="Liberation Sans" font-weight="700" font-size="7.8" fill="#ff6b6b" textLength="18.2" lengthAdjust="spacingAndGlyphs">1.2 M</text><path d="M1 14.6C3.5 12.5 5 13.6 7 14C9.5 14.4 11 13 12.4 11.2" fill="none" stroke="#3d96f2" stroke-width="1" stroke-linecap="round"/></svg>
<div class="t" style="left:702.0px;top:756.0px;font-size:26px;color:#c4c4c4;letter-spacing:0.584px;">Индикатор</div>
<svg style="left:651px;top:810px;opacity:0.34" width="32" height="32" viewBox="0 0 16 16"><rect x="1.3" y="1.4" width="7.4" height="8.4" fill="#3d96f2"/><rect x="9.9" y="1.4" width="4.8" height="8.4" fill="#3d96f2"/><rect x="1.3" y="11" width="4.6" height="3.8" fill="#3d96f2"/><rect x="7.1" y="11" width="4.6" height="3.8" fill="#3d96f2"/><rect x="12.8" y="11" width="1.9" height="3.8" fill="#ff6b6b"/></svg>
<div class="t" style="left:702.0px;top:812.0px;font-size:26px;color:#c4c4c4;letter-spacing:0.255px;">Древовидная диаграмма</div>
<svg style="left:651px;top:866px;opacity:0.34" width="32" height="32" viewBox="0 0 16 16"><rect x="-0.4" y="2.6" width="4.4" height="1.5" fill="#ff6b6b"/><rect x="-0.4" y="5.6" width="4.4" height="3.2" fill="#3d96f2"/><rect x="-0.4" y="10.4" width="4.4" height="3.2" fill="#3d96f2"/><rect x="5.4" y="2.6" width="4.4" height="1.5" fill="#ff6b6b"/><rect x="5.4" y="5.6" width="4.4" height="3.2" fill="#3d96f2"/><rect x="5.4" y="10.4" width="4.4" height="3.2" fill="#3d96f2"/><rect x="11.2" y="2.6" width="4.4" height="1.5" fill="#ff6b6b"/><rect x="11.2" y="5.6" width="4.4" height="3.2" fill="#3d96f2"/><rect x="11.2" y="10.4" width="4.4" height="3.2" fill="#3d96f2"/></svg>
<div class="t" style="left:702.0px;top:868.0px;font-size:26px;color:#c4c4c4;letter-spacing:-0.326px;">Таблица</div>
<svg style="left:651px;top:922px;opacity:0.34" width="32" height="32" viewBox="0 0 16 16"><rect x="-0.4" y="2.6" width="4.4" height="1.5" fill="#ff6b6b"/><rect x="-0.4" y="5.6" width="4.4" height="3.2" fill="#ff6b6b"/><rect x="-0.4" y="10.4" width="4.4" height="3.2" fill="#ff6b6b"/><rect x="5.4" y="2.6" width="4.4" height="1.5" fill="#ff6b6b"/><rect x="5.4" y="5.6" width="4.4" height="3.2" fill="#3d96f2"/><rect x="5.4" y="10.4" width="4.4" height="3.2" fill="#3d96f2"/><rect x="11.2" y="2.6" width="4.4" height="1.5" fill="#ff6b6b"/><rect x="11.2" y="5.6" width="4.4" height="3.2" fill="#3d96f2"/><rect x="11.2" y="10.4" width="4.4" height="3.2" fill="#3d96f2"/></svg>
<div class="t" style="left:702.0px;top:924.0px;font-size:26px;color:#c4c4c4;letter-spacing:-0.202px;">Сводная таблица</div>
<svg style="left:651px;top:978px;opacity:0.34" width="32" height="32" viewBox="0 0 16 16"><rect x="0.8" y="1" width="14.2" height="14" fill="none" stroke="#3d96f2" stroke-width=".6"/><path d="M15 1L7.4 15M0.8 3L10.8 6.1M0.8 9.6L5.8 11.6M9 8.8L15 12" fill="none" stroke="#3d96f2" stroke-width=".6"/></svg>
<div class="t" style="left:702.0px;top:980.0px;font-size:26px;color:#c4c4c4;letter-spacing:0.105px;">Карта</div>
<svg style="left:651px;top:1034px;opacity:0.34" width="32" height="32" viewBox="0 0 16 16"><rect x="1.5" y="1.2" width="3" height="12" rx=".6" fill="#3d96f2"/><rect x="6.4" y="6.8" width="2.8" height="6.4" rx=".4" fill="#3d96f2"/><rect x="11.2" y="5" width="3.2" height="6.8" rx=".4" fill="#3d96f2"/><path d="M0.2 15.5L10.8 11.2L12 12L16 9V15.5Z" fill="#ff6b6b"/><polyline points="0.2,8.6 4,4.4 7.8,5.6 15,0.8" fill="none" stroke="#ff6b6b" stroke-width=".7"/></svg>
<div class="t" style="left:702.0px;top:1036.0px;font-size:26px;color:#c4c4c4;letter-spacing:0.265px;">Комбинированная диаграмма</div>
<div class="a" style="left:624px;top:341px;width:595px;height:77px;border:5px solid #5282ff;border-radius:16px;background:#fff"></div>
<svg style="left:651px;top:362px" width="32" height="32" viewBox="0 0 16 16"><rect x="1.3" y="9" width="3.4" height="5.6" rx=".8" fill="#1a78d6"/><rect x="6.4" y="5.4" width="3.3" height="9.2" rx=".8" fill="#1a78d6"/><rect x="11.4" y="2" width="3.3" height="12.6" rx=".8" fill="#f04646"/></svg>
<div class="t" style="left:702.0px;top:364.0px;font-size:26px;color:#1f1f1f;letter-spacing:-0.030px;">Столбчатая диаграмма</div>
<div class="a" style="left:3px;top:1406px;width:2523px;height:31px;background:#f1f1f1;"></div>
<div class="a" style="left:33px;top:1409.4px;width:2158px;height:27.6px;background:#c1c1c1;"></div>
<svg style="left:11.6px;top:1415.5px" width="10" height="16"><path d="M9 0L1 8L9 16Z" fill="#a3a3a3"/></svg>
<svg style="left:2505px;top:1415.5px" width="10" height="16"><path d="M1 0L9 8L1 16Z" fill="#505050"/></svg>
<div class="a" style="left:2526px;top:1406px;width:31px;height:31px;background:#dcdcdc;"></div>
<div class="a" style="left:0;top:0;width:2560px;height:1440px;border:3px solid #cbcbcb;pointer-events:none"></div>
</body></html>
